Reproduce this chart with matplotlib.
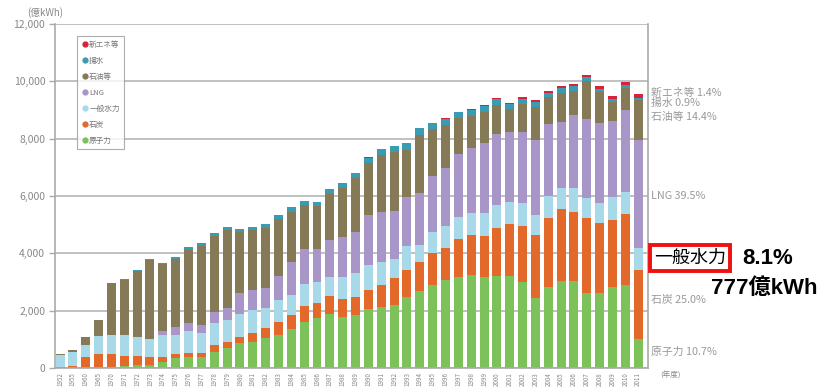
import matplotlib
matplotlib.use("Agg")
import matplotlib.pyplot as plt
from matplotlib.lines import Line2D
import numpy as np

plt.rcParams['font.family'] = ['Noto Sans CJK JP', 'DejaVu Sans']

# 発電電力量 (億kWh), by fiscal year
years = ["1952", "1955", "1960", "1965"] + [str(y) for y in range(1970, 2012)]

nuclear = [0, 0, 0, 0, 40, 70, 90, 100, 200, 338, 373, 373, 569, 688, 862, 918,
           1037, 1152, 1351, 1616, 1735, 1885, 1790, 1850, 2049, 2118, 2199, 2467,
           2698, 2897, 3071, 3186, 3246, 3186, 3211, 3211, 3012, 2433, 2838, 3047,
           3047, 2607, 2628, 2838, 2897, 1018]
coal = [40, 70, 373, 489, 450, 350, 330, 270, 200, 151, 160, 160, 234, 230, 231, 293,
        348, 464, 499, 548, 523, 628, 608, 638, 673, 779, 932, 953,
        1012, 1127, 1106, 1306, 1396, 1421, 1665, 1815, 1944, 2209, 2386, 2492,
        2408, 2617, 2422, 2327, 2478, 2390]
hydro = [400, 500, 430, 628, 663, 733, 674, 628, 740, 663, 768, 678, 757, 757, 792, 813,
         699, 757, 698, 768, 754, 673, 767, 817, 873, 813, 663, 838,
         583, 733, 779, 788, 778, 813, 813, 778, 792, 698, 779, 732,
         816, 698, 719, 813, 778, 777]
lng = [0, 0, 0, 0, 0, 0, 0, 0, 150, 268, 279, 290, 405, 409, 722, 698,
       697, 838, 1162, 1211, 1131, 1281, 1417, 1452, 1745, 1745, 1696, 1720,
       1825, 1944, 2014, 2189, 2247, 2422, 2478, 2444, 2500, 2617, 2513, 2326,
       2559, 2758, 2771, 2653, 2851, 3778]
oil = [60, 60, 268, 558, 1804, 1902, 2286, 2756, 2325, 2373, 2552, 2761, 2636, 2717, 2124, 2090,
       2115, 1989, 1748, 1536, 1501, 1600, 1705, 1869, 1803, 1958, 2038, 1644,
       2017, 1620, 1504, 1236, 1122, 1097, 1005, 772, 959, 1146, 923, 1005,
       842, 1316, 1092, 652, 778, 1378]
pumped = [0, 0, 0, 0, 20, 40, 40, 50, 60, 70, 80, 90, 100, 110, 110, 120,
          130, 140, 150, 160, 160, 170, 180, 190, 200, 210, 210, 210,
          220, 220, 220, 220, 220, 210, 200, 190, 190, 190, 170, 160,
          150, 140, 110, 100, 90, 86]
new_energy = [0] * 24 + [10, 10, 10, 10, 10, 20, 20, 20, 20, 30, 40, 50, 50, 60, 70, 80,
                         90, 90, 100, 110, 120, 134]

series = [
    ("原子力", nuclear, "#7cc15a"),
    ("石炭", coal, "#e2692a"),
    ("一般水力", hydro, "#a8d9e8"),
    ("LNG", lng, "#a896c9"),
    ("石油等", oil, "#857a55"),
    ("揚水", pumped, "#3a9cb3"),
    ("新エネ等", new_energy, "#d8213a"),
]

right_labels = [
    ("新エネ等 1.4%", 93),
    ("揚水 0.9%", 103),
    ("石油等 14.4%", 117),
    ("LNG 39.5%", 196),
    ("石炭 25.0%", 300),
    ("原子力 10.7%", 352),
]

W, H = 828, 390


def fx(px):
    return px / W


def fy(py):
    return 1 - py / H


fig = plt.figure(figsize=(W / 100, H / 100), dpi=100)
ax = fig.add_axes([fx(55), fy(368), (648 - 55) / W, (368 - 24) / H])

x = np.arange(len(years))
bottom = np.zeros(len(years))
for name, vals, color in series:
    vals = np.array(vals, dtype=float)
    ax.bar(x, vals, width=0.7, bottom=bottom, color=color, linewidth=0, zorder=2)
    bottom += vals

ax.set_xlim(-0.39, len(years) - 0.24)
ax.set_ylim(0, 12000)
ax.set_yticks(range(0, 12001, 2000))
ax.set_yticklabels([f"{v:,}" for v in range(0, 12001, 2000)])
ax.yaxis.grid(True, color="#b5b5b5", linewidth=1.2, zorder=0)
ax.set_axisbelow(True)

ax.set_xticks(x)
ax.set_xticklabels(years, rotation=90, fontsize=4.5, color="#888888")
ax.tick_params(axis="x", length=0, pad=3)
ax.tick_params(axis="y", length=4, width=1, color="#aaaaaa",
               labelsize=7.5, labelcolor="#888888", pad=3)

ax.spines["top"].set_visible(False)
for side in ("left", "right", "bottom"):
    ax.spines[side].set_color("#aaaaaa")
    ax.spines[side].set_linewidth(1.2)

# legend (top entry first)
handles = [Line2D([], [], marker="o", linestyle="", markersize=3.5,
                  markerfacecolor=c, markeredgecolor=c, label=n)
           for n, _, c in reversed(series)]
leg = fig.legend(handles=handles, loc="upper left",
                 bbox_to_anchor=(fx(77), fy(36)), bbox_transform=fig.transFigure,
                 fontsize=5.5, frameon=True, fancybox=False, edgecolor="#999999",
                 labelspacing=1.05, handletextpad=0.2, handlelength=0.8,
                 borderpad=0.6, borderaxespad=0)
for t in leg.get_texts():
    t.set_color("#777777")
leg.get_frame().set_linewidth(0.8)

fig.text(fx(27), fy(13), "(億kWh)", fontsize=7, color="#888888", va="center")
fig.text(fx(660), fy(376), "(年度)", fontsize=5.5, color="#888888", va="center")

for text, py in right_labels:
    fig.text(fx(651), fy(py), text, fontsize=7.8, color="#999999", va="center")

# highlighted 一般水力 share in FY2011
fig.text(fx(654), fy(258), "一般水力", fontsize=13, color="black", va="center",
         bbox=dict(boxstyle="square,pad=0.2", fc="white", ec="#ee1111", lw=2.8))
hydro_share = hydro[-1] / sum(v[-1] for _, v, _ in series) * 100
fig.text(fx(742), fy(259), f"{hydro_share:.1f}%", fontsize=16, fontweight="bold",
         color="black", va="center", family=["Liberation Sans", "Noto Sans CJK JP"])
fig.text(fx(711), fy(288), f"{hydro[-1]}億kWh", fontsize=16, fontweight="bold",
         color="black", va="center", family=["Liberation Sans", "Noto Sans CJK JP"])

fig.savefig("out.png", dpi=100, facecolor="white")
